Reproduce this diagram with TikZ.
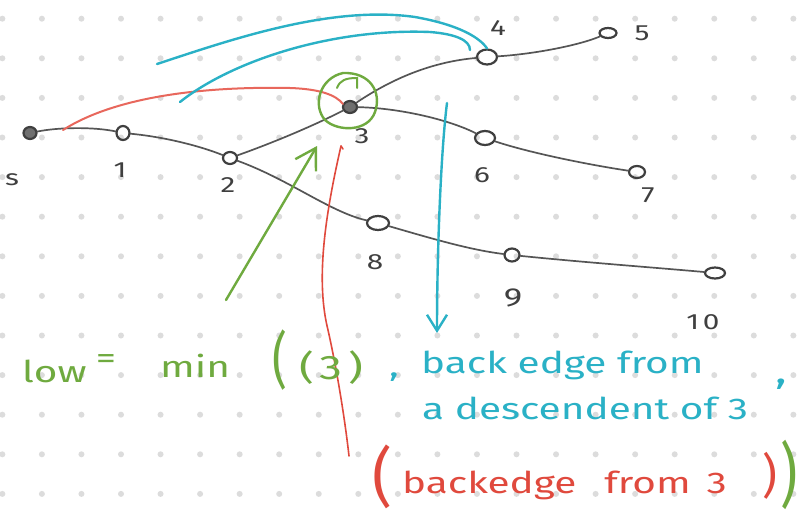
\documentclass[tikz,border=0pt]{standalone}
\usepackage{fontspec}
\usepackage{graphicx}
\setmainfont{Fira Sans}
\newfontfamily\hand[FakeStretch=1.35]{Fira Sans}
\usetikzlibrary{arrows.meta,shapes.geometric}
\definecolor{edgegray}{HTML}{555555}
\definecolor{vgray}{HTML}{3F3F3F}
\definecolor{dotgray}{HTML}{DCDCDC}
\definecolor{hred}{HTML}{E0493D}
\definecolor{hsalmon}{HTML}{E8675C}
\definecolor{hcyan}{HTML}{2AB1C6}
\definecolor{hgreen}{HTML}{6FAA3F}
\newcommand{\hfs}[1]{\hand\fontsize{#1}{#1}\selectfont}
\tikzset{
  vert/.style={ellipse, draw=vgray, line width=2.2pt, minimum width=16pt, minimum height=12pt, inner sep=0pt},
  vfill/.style={vert, fill=vgray!75},
  tedge/.style={draw=edgegray, line width=1.7pt, line cap=round},
  lbl/.style={text=vgray, font=\hfs{22}, inner sep=0pt},
  cyanpen/.style={draw=hcyan, line width=2.4pt, line cap=round},
  greenpen/.style={draw=hgreen, line width=2.4pt, line cap=round},
  gtext/.style={text=hgreen, inner sep=0pt},
  ctext/.style={text=hcyan, inner sep=0pt},
  rtext/.style={text=hred, inner sep=0pt},
}
\begin{document}
\begin{tikzpicture}[x=1pt,y=-1pt]
\useasboundingbox[fill=white] (0,0) rectangle (805,519);
% dot grid
\foreach \i in {0,...,20}{
  \foreach \j in {0,...,12}{
    \fill[dotgray] (2.35+39.55*\i, 18.7+39.6*\j) circle (3pt);
  }
}
% tree vertices
\node[vfill, minimum width=13pt, minimum height=12pt] (vs) at (30,133) {};
\node[vert, minimum width=13pt, minimum height=14pt] (v1) at (123,133) {};
\node[vert, minimum width=14pt] (v2) at (230,158) {};
\node[vfill, minimum width=14pt] (v3) at (350,107) {};
\node[vert, minimum width=20pt, minimum height=15pt] (v4) at (487,57) {};
\node[vert, minimum width=17pt, minimum height=10pt] (v5) at (608,33) {};
\node[vert, minimum width=20pt, minimum height=14pt] (v6) at (485,138) {};
\node[vert] (v7) at (637,172) {};
\node[vert, minimum width=22pt, minimum height=14pt] (v8) at (378,223) {};
\node[vert, minimum width=15pt, minimum height=13pt] (v9) at (512,255) {};
\node[vert, minimum width=20pt, minimum height=11pt] (v10) at (715,273) {};
% labels
\node[lbl] (ls) at (12,180) {s};
\node[lbl] (l1) at (120,170) {1};
\node[lbl] (l2) at (228,185) {2};
\node[lbl] (l3) at (362,136) {3};
\node[lbl] (l4) at (498,28) {4};
\node[lbl] (l5) at (642,33) {5};
\node[lbl] (l6) at (482,175) {6};
\node[lbl] (l7) at (648,195) {7};
\node[lbl] (l8) at (375,262) {8};
\node[lbl, font=\hfs{26}] (l9) at (513,298) {9};
\node[lbl] (l10) at (703,322) {1\,0};
% tree edges
\path[tedge] (vs) .. controls (60,127) and (95,127) .. (v1);
\path[tedge] (v1) .. controls (165,137) and (200,146) .. (v2);
\path[tedge] (v2) .. controls (275,142) and (315,125) .. (v3);
\path[tedge] (v3) .. controls (390,80) and (430,62) .. (v4);
\path[tedge] (v4) .. controls (535,54) and (580,45) .. (v5);
\path[tedge] (v3) .. controls (400,108) and (450,120) .. (v6);
\path[tedge] (v6) .. controls (530,153) and (590,165) .. (v7);
\path[tedge] (v2) .. controls (290,180) and (330,212) .. (v8);
\path[tedge] (v8) .. controls (430,238) and (470,250) .. (v9);
\path[tedge] (v9) .. controls (580,262) and (660,268) .. (v10);
% red back edge from the s-1 edge to 3
\coordinate (rs) at (63,130);
\coordinate (re) at (343,104);
\draw[draw=hsalmon, line width=2pt, line cap=round] (rs) .. controls (110,100) and (190,86) .. (290,88) .. controls (320,89) and (336,95) .. (re);
% cyan back edges into 4
\coordinate (cu) at (157,64);
\coordinate (cl) at (180,102);
\coordinate (cle) at (470,50);
\draw[cyanpen] (cu) .. controls (230,40) and (330,5) .. (415,17) .. controls (460,25) and (480,38) .. (v4.north);
\draw[cyanpen] (cl) .. controls (230,62) and (330,28) .. (430,32) .. controls (455,34) and (470,40) .. (cle);
% cyan arrow down
\coordinate (ct) at (447,103);
\coordinate (cb) at (437,333);
\draw[cyanpen, -{Straight Barb[length=16pt,width=20pt]}] (ct) .. controls (441,150) and (437,250) .. (cb);
% green circle around 3
\draw[greenpen] (343,73) .. controls (320,78) and (312,105) .. (325,120) .. controls (338,132) and (368,132) .. (375,112) .. controls (382,92) and (370,72) .. (343,73);
\coordinate (gh1) at (337,88);
\coordinate (gh2) at (357,88);
\draw[greenpen, line width=2pt] (gh1) .. controls (340,80) and (346,78) .. (357,78) -- (gh2);
% green arrow
\coordinate (ga) at (226,300);
\coordinate (gb) at (317,146);
\draw[greenpen, -{Straight Barb[length=20pt,width=24pt]}] (ga) -- (gb);
% red line
\coordinate (rt) at (341,146);
\coordinate (rb) at (349,456);
\draw[draw=hred, line width=1.6pt, line cap=round] (rt) .. controls (324,220) and (316,282) .. (328,330) .. controls (337,370) and (345,420) .. (rb);
\draw[draw=hred, line width=1.6pt, line cap=round] (rt) -- (343,149);
% green text
\node[gtext, font=\hfs{30}, anchor=base west] (tlow) at (22,382) {low};
\node[gtext, font=\hfs{30}] (teq) at (106,362) {=};
\node[gtext, font=\hfs{30}, anchor=base west] (tmin) at (160,377) {min};
\node[gtext, font=\hfs{34}] (tpo) at (280,360) {\scalebox{1}[1.8]{(}};
\node[gtext, font=\hfs{34}] (t3) at (331,368) {(\,3\,)};
% cyan text
\node[ctext, font=\hfs{30}] (tc1) at (394,377) {,};
\node[ctext, font=\hfs{30}, anchor=base west] (tbe) at (421,373) {back edge from};
\node[ctext, font=\hfs{36}] (tc2) at (781,384) {,};
\node[ctext, font=\hfs{30}, anchor=base west] (tdesc) at (422,419) {a descendent of 3};
% red text
\node[rtext, font=\hfs{38}] (trpo) at (382,477) {\scalebox{1.2}[1.7]{(}};
\node[rtext, font=\hfs{30}, anchor=base west] (tbe2) at (402,493) {backedge\hspace{28pt}from\hspace{16pt}3};
\node[rtext, font=\hfs{34}] (trpc) at (770,476) {\scalebox{1}[1.4]{)}};
% green big paren
\node[gtext, font=\hfs{36}] (tgpc) at (789,475) {\scalebox{1.1}[1.95]{)}};
\end{tikzpicture}
\end{document}
